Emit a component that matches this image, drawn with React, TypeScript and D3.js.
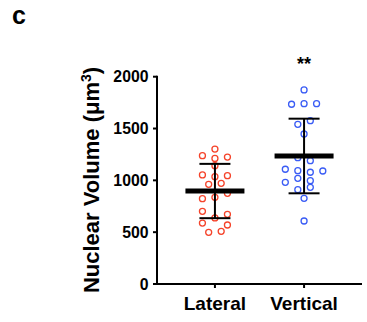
import React from "react";
import * as d3 from "d3";

const categories = ["Lateral", "Vertical"];
const yTicks = [0, 500, 1000, 1500, 2000];

// values (µm³) and swarm slot (column) for each dot
const lateralValues = [1302, 1238, 1212, 1225, 1141, 1052, 1035, 1045, 962, 971, 875, 823, 836, 701, 637, 672, 588, 569, 499, 508];
const lateralSlots = [0, -2, 0, 2, 0, -2, 0, 2, -1, 1, 2, -2, 0, -2, 0, 2, -2, 2, -1, 1];
const verticalValues = [1872, 1734, 1740, 1740, 1541, 1576, 1447, 1219, 1190, 1107, 1093, 1078, 1090, 1020, 997, 981, 933, 910, 827, 608];
const verticalSlots = [0, -2, 0, 2, -1, 1, 0, -1, 1, -3, -1, 1, 3, -1, 1, -3, 1, -1, 0, 0];

const means = [897, 1235];
const sds = [262, 360];
const significance = ["", "**"];
const colors = ["#f5432a", "#3a5cf5"];

const W = 367;
const H = 322;
const FONT = "'Liberation Sans', Arial, Helvetica, sans-serif";

export default function App() {
  const y = d3.scaleLinear().domain([0, 2000]).range([284, 76.7]);
  const x = d3.scalePoint<string>().domain(categories).range([157, 362]).padding(0.65);
  const slotW = 6.25;
  const groups = [
    { values: lateralValues, slots: lateralSlots },
    { values: verticalValues, slots: verticalSlots },
  ];
  const x0 = 157;
  const yBase = y(0);

  return (
    <svg width={W} height={H} style={{ position: "absolute", left: 0, top: 0, background: "#fff" }}>
      <text x={12} y={24} fontFamily={FONT} fontWeight="bold" fontSize={25}>c</text>

      {/* y axis */}
      <line x1={x0} x2={x0} y1={y(2000) - 1} y2={yBase + 1} stroke="#000" strokeWidth={2} />
      {yTicks.map((t) => (
        <g key={t}>
          <line x1={x0 - 4} x2={x0} y1={y(t)} y2={y(t)} stroke="#000" strokeWidth={2} />
          <text x={148.5} y={y(t)} dy="0.36em" textAnchor="end" fontFamily={FONT} fontWeight="bold" fontSize={15.8}>{t}</text>
        </g>
      ))}
      {/* x axis */}
      <line x1={x0 - 1} x2={362} y1={yBase} y2={yBase} stroke="#000" strokeWidth={2} />
      {categories.map((c) => (
        <g key={c}>
          <line x1={x(c)!} x2={x(c)!} y1={yBase} y2={yBase + 4} stroke="#000" strokeWidth={2} />
          <text x={x(c)!} y={310} textAnchor="middle" fontFamily={FONT} fontWeight="bold" fontSize={19}>{c}</text>
        </g>
      ))}

      {/* y label */}
      <text transform={`translate(99,180) rotate(-90)`} textAnchor="middle" fontFamily={FONT} fontWeight="bold" fontSize={22}>
        Nuclear Volume (μm<tspan dy={-8} fontSize={14}>3</tspan><tspan dy={8}>)</tspan>
      </text>

      {/* dots */}
      {groups.map((g, gi) =>
        g.values.map((v, i) => (
          <circle key={`${gi}-${i}`} cx={x(categories[gi])! + g.slots[i] * slotW} cy={y(v)} r={3} fill="none" stroke={colors[gi]} strokeWidth={1.3} />
        ))
      )}

      {/* mean and SD */}
      {categories.map((c, i) => {
        const cx = x(c)!;
        return (
          <g key={c}>
            <line x1={cx} x2={cx} y1={y(means[i] + sds[i])} y2={y(means[i] - sds[i])} stroke="#000" strokeWidth={2} />
            <line x1={cx - 15.5} x2={cx + 15.5} y1={y(means[i] + sds[i])} y2={y(means[i] + sds[i])} stroke="#000" strokeWidth={2} />
            <line x1={cx - 15.5} x2={cx + 15.5} y1={y(means[i] - sds[i])} y2={y(means[i] - sds[i])} stroke="#000" strokeWidth={2} />
            <line x1={cx - 29.5} x2={cx + 29.5} y1={y(means[i])} y2={y(means[i])} stroke="#000" strokeWidth={5} />
            {significance[i] && (
              <text x={cx} y={69.5} textAnchor="middle" fontFamily={FONT} fontWeight="bold" fontSize={18}>{significance[i]}</text>
            )}
          </g>
        );
      })}
    </svg>
  );
}
